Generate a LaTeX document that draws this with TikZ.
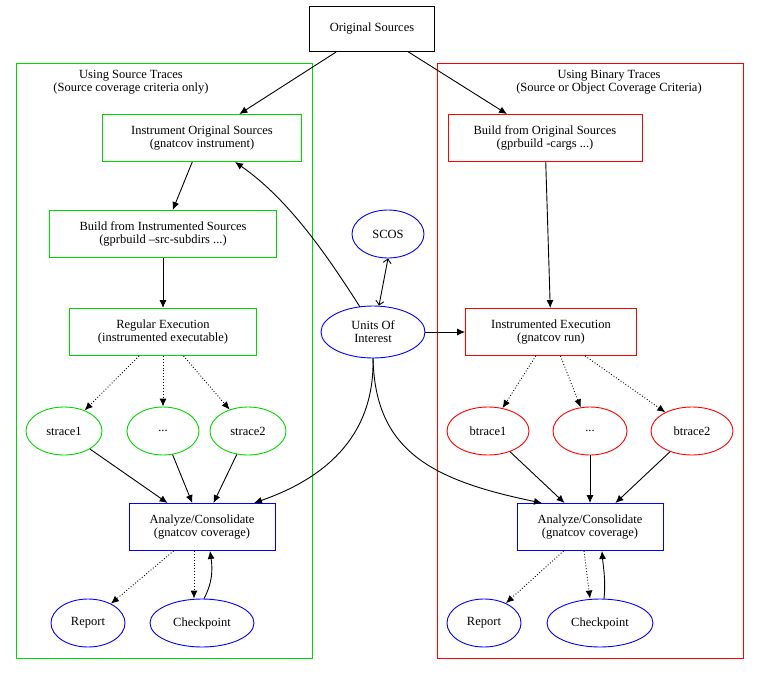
\documentclass[tikz,border=0pt]{standalone}
\usepackage{fontspec}
\setmainfont{Liberation Serif}
\usetikzlibrary{shapes.geometric,arrows.meta}
\begin{document}
\begin{tikzpicture}[x=1pt,y=-1pt,font=\fontsize{12.5}{13}\selectfont,line width=0.9pt,
 box/.style={draw,rectangle,align=center,minimum height=47pt,inner sep=2pt},
 ell/.style={draw,ellipse,minimum height=48pt,align=center,inner sep=1pt},
 g/.style={draw=green!85!black}, r/.style={draw=red}, b/.style={draw=blue},
 e/.style={-{Latex[length=8pt,width=7pt]}},
 d/.style={e,dotted},
 o/.style={{Straight Barb[length=4pt,width=8pt]}-{Straight Barb[length=4pt,width=8pt]}}]
\useasboundingbox (0,0) rectangle (760,674);
\draw[green!85!black] (16,63) rectangle (312,658);
\draw[red] (437,63) rectangle (743,658);
\node[align=center] at (131,82) {Using Source Traces\\(Source coverage criteria only)};
\node[align=center] at (609,82) {Using Binary Traces\\(Source or Object Coverage Criteria)};
\node[box,minimum width=125pt,minimum height=45pt] (os) at (372,29) {Original Sources};
\node[box,g,minimum width=199pt] (ios) at (202,138) {Instrument Original Sources\\(gnatcov instrument)};
\node[box,g,minimum width=227pt] (bis) at (163,234) {Build from Instrumented Sources\\(gprbuild --src-subdirs ...)};
\node[box,g,minimum width=187pt] (re) at (163,332) {Regular Execution\\(instrumented executable)};
\node[ell,g,minimum width=76pt] (s1) at (64,431) {strace1};
\node[ell,g,minimum width=72pt] (sd) at (163,431) {...};
\node[ell,g,minimum width=76pt] (s2) at (248,431) {strace2};
\node[box,b,minimum width=146pt] (al) at (202,527) {Analyze/Consolidate\\(gnatcov coverage)};
\node[ell,b,minimum width=74pt] (rl) at (88,623) {Report};
\node[ell,b,minimum width=104pt] (cl) at (202,623) {Checkpoint};
\node[ell,b,minimum width=72pt] (scos) at (388,234) {SCOS};
\node[ell,b,minimum width=104pt,minimum height=52pt] (uoi) at (373,332) {Units Of\\Interest};
\node[box,r,minimum width=194pt] (bos) at (545,138) {Build from Original Sources\\(gprbuild -cargs ...)};
\node[box,r,minimum width=171pt] (ie) at (551,332) {Instrumented Execution\\(gnatcov run)};
\node[ell,r,minimum width=82pt] (b1) at (488,431) {btrace1};
\node[ell,r,minimum width=74pt] (bd) at (590,431) {...};
\node[ell,r,minimum width=82pt] (b2) at (692,431) {btrace2};
\node[box,b,minimum width=146pt] (ar) at (590,527) {Analyze/Consolidate\\(gnatcov coverage)};
\node[ell,b,minimum width=74pt] (rr) at (484,623) {Report};
\node[ell,b,minimum width=106pt] (cr) at (600,623) {Checkpoint};
\draw[e] (os) -- (ios);
\draw[e] (os) -- (bos);
\draw[e] (ios) -- (bis);
\draw[e] (bis) -- (re);
\draw[d] (re) -- (s1); \draw[d] (re) -- (sd); \draw[d] (re) -- (s2);
\draw[e] (s1) -- (al); \draw[e] (sd) -- (al); \draw[e] (s2) -- (al);
\draw[d] (al) -- (rl);
\draw[d] ([xshift=-8pt]al.south) -- ([xshift=-8pt]cl.north);
\draw[e] ([xshift=2pt]cl.north) .. controls (214,580) and (212,565) .. ([xshift=8pt]al.south);
\draw[e] (bos) -- (ie);
\draw[d] (ie) -- (b1); \draw[d] (ie) -- (bd); \draw[d] (ie) -- (b2);
\draw[e] (b1) -- (ar); \draw[e] (bd) -- (ar); \draw[e] (b2) -- (ar);
\draw[d] (ar) -- (rr);
\draw[d] ([xshift=-6pt]ar.south) -- ([xshift=-10pt]cr.north);
\draw[e] ([xshift=4pt]cr.north) .. controls (606,580) and (603,565) .. ([xshift=12pt]ar.south);
\draw[o] ([xshift=6pt]uoi.north) -- (scos.south);
\draw[e] (uoi) -- (ie);
\draw[e] (360,307) .. controls (330,260) and (290,200) .. (235,162);
\draw[e] (373,358) .. controls (375,440) and (320,480) .. (254,503);
\draw[e] (373,358) .. controls (375,450) and (430,480) .. (542,503);
\end{tikzpicture}
\end{document}
